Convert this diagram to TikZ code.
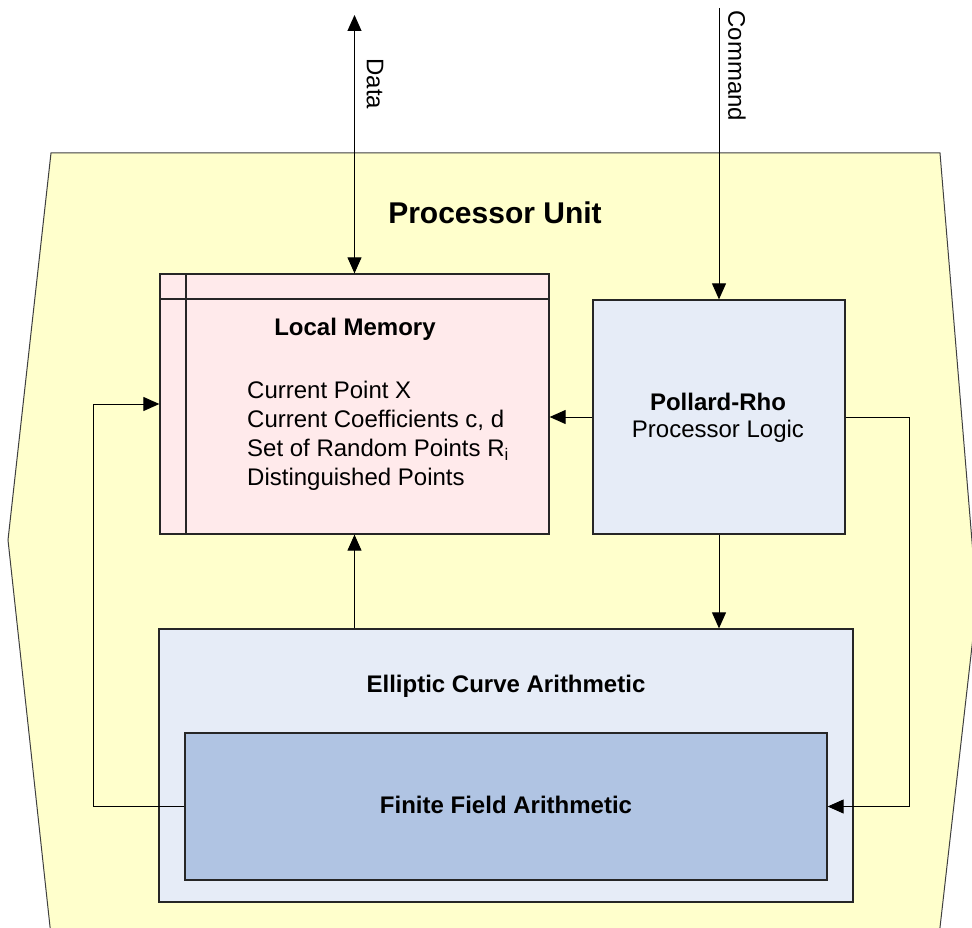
\documentclass[tikz,border=0pt]{standalone}
\usepackage{fontspec}
\setmainfont{Liberation Sans}
\usetikzlibrary{arrows.meta,calc}
\definecolor{unitfill}{HTML}{FFFFCC}
\definecolor{memfill}{HTML}{FFEAEB}
\definecolor{lightblue}{HTML}{E6ECF7}
\definecolor{ffblue}{HTML}{B0C4E3}
\tikzset{
  box/.style={draw=black!85,line width=1.3pt,rectangle,inner sep=0pt},
  conn/.style={draw=black,line width=1pt},
  tip/.style={-{Triangle[length=16pt,width=14pt]}},
  lbl/.style={font=\fontsize{24}{29}\selectfont,inner sep=0pt},
  blbl/.style={font=\fontsize{24}{29}\selectfont\bfseries,inner sep=0pt},
}
\begin{document}
\begin{tikzpicture}[x=1pt,y=-1pt]
\useasboundingbox (0,0) rectangle (972,928);
\begin{scope}
\clip (0,0) rectangle (972,928);
\draw[fill=unitfill,draw=black!75,line width=1pt]
  (51,153) -- (940,153) -- (977,602) -- (938,945) -- (52,945) -- (8,540) -- cycle;
\end{scope}
\node[blbl,font=\fontsize{30}{32}\selectfont\bfseries] (title) at (495,213) {Processor Unit};
% boxes
\node[box,fill=memfill,minimum width=389pt,minimum height=260pt] (lm) at (354.5,404) {};
\draw[line width=1.3pt,draw=black!85] (lm.north west |- 0,299) -- (lm.north east |- 0,299);
\draw[line width=1.3pt,draw=black!85] (186,274) -- (186,534);
\node[box,fill=lightblue,minimum width=252pt,minimum height=234pt] (pr) at (719,417) {};
\node[box,fill=lightblue,minimum width=694pt,minimum height=273pt] (ec) at (506,765.5) {};
\node[box,fill=ffblue,minimum width=642pt,minimum height=147pt] (ff) at (506,806.5) {};
% texts
\node[blbl] (lmt) at (355,329) {Local Memory};
\node[lbl,anchor=north west,align=left] (lml) at (247,381) {Current Point X\\Current Coefficients c, d\\Set of Random Points R\textsubscript{i}\\Distinguished Points};
\node[blbl] (prt1) at (718,402) {Pollard-Rho};
\node[lbl] (prt2) at (718,431) {Processor Logic};
\node[blbl] (ect) at (506,686) {Elliptic Curve Arithmetic};
\node[blbl] (fft) at (506,805) {Finite Field Arithmetic};
% external connectors
\coordinate (datatop) at (lm.north |- 0,15);
\coordinate (cmdtop) at (pr.north |- 0,8);
\draw[conn,{Triangle[length=16pt,width=14pt]}-{Triangle[length=16pt,width=14pt]}] (datatop) -- (lm.north);
\node[lbl,rotate=-90] (datal) at (375,84) {Data};
\draw[conn,tip] (cmdtop) -- (pr.north);
\node[lbl,rotate=-90] (cmdl) at (737,66) {Command};
% internal connectors
\draw[conn,tip] (pr.west) -- (lm.east |- pr.west);
\draw[conn,tip] (pr.south) -- (pr.south |- ec.north);
\draw[conn,tip] (lm.south |- ec.north) -- (lm.south);
\draw[conn,tip] (ff.west) -- ++(-91,0) |- (lm.west);
\draw[conn,tip] (pr.east) -- ++(64,0) |- (ff.east);
\end{tikzpicture}
\end{document}
